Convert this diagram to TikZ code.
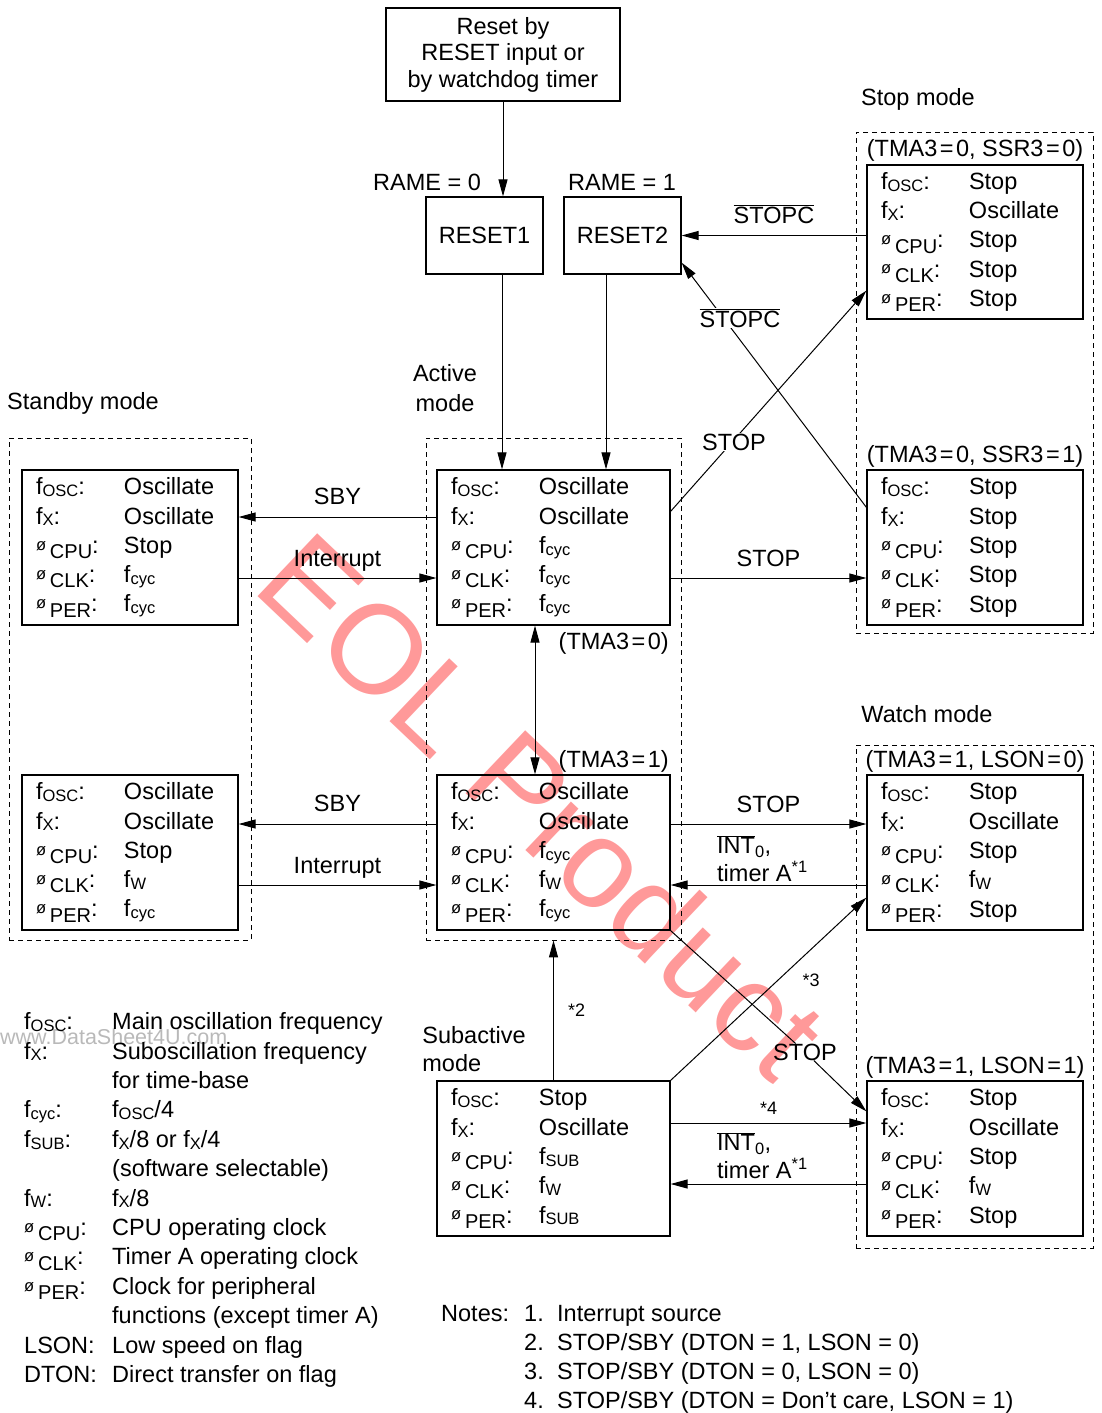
\documentclass[tikz,border=0pt]{standalone}
\usepackage{fontspec}
\setmainfont{Liberation Sans}
\usetikzlibrary{arrows.meta}

\newcommand{\fsub}[1]{f\raisebox{-0.08em}{\fontsize{16.5}{16.5}\selectfont #1}}
\newcommand{\phisub}[1]{\raisebox{0.14em}{\fontsize{16.5}{16.5}\selectfont ø}\,\raisebox{-0.22em}{\fontsize{20}{20}\selectfont #1}:}
\newcommand{\mrow}[2]{\makebox[88pt][l]{#1}#2}
\newcommand{\clocks}[5]{\mrow{\fsub{OSC}:}{#1}\\ \mrow{\fsub{X}:}{#2}\\ \mrow{\phisub{CPU}}{#3}\\ \mrow{\phisub{CLK}}{#4}\\ \mrow{\phisub{PER}}{#5}}
\newcommand{\bartext}[1]{$\overline{\mbox{#1}}$}
\newcommand{\eq}{\kern2.5pt=\kern2.5pt}

\tikzset{
  every node/.style={font=\fontsize{23.5}{29.3}\selectfont, inner sep=0pt},
  widebox/.style={draw, line width=1.2pt, minimum height=155pt, inner xsep=14pt, text width=205pt, align=left},
  narrowbox/.style={draw, line width=1.2pt, minimum height=155pt, inner xsep=14pt, text width=188pt, align=left},
  resetbox/.style={draw, line width=1.2pt, minimum width=117pt, minimum height=77pt},
  group/.style={draw, line width=0.9pt, dash pattern=on 5pt off 4pt},
  arr/.style={-{Triangle[length=17pt,width=9pt]}, line width=1pt},
  lbl/.style={above=#1, text depth=0pt},
  lbl/.default=11pt,
  small/.style={font=\fontsize{18}{18}\selectfont},
}

\begin{document}
\begin{tikzpicture}[x=1pt,y=-1pt]
	\useasboundingbox (0,0) rectangle (1101,1413);

	% watermarks
	\node[rotate=-43.5, text=red!40, font=\fontsize{126}{126}\selectfont] (eol) at (543,805) {EOL Product};
	\node[anchor=west, text=gray!55, font=\fontsize{21.5}{21.5}\selectfont] (www) at (0,1037) {www.DataSheet4U.com};

	% dashed mode groups
	\node[group, minimum width=242pt, minimum height=502pt] (sbygrp) at (130,689) {};
	\node[group, minimum width=255pt, minimum height=502pt] (actgrp) at (553.5,689) {};
	\node[group, minimum width=237pt, minimum height=501pt] (stpgrp) at (974.5,382.5) {};
	\node[group, minimum width=237pt, minimum height=503pt] (wchgrp) at (974.5,996.5) {};

	\node at (83,403) {Standby mode};
	\node[align=center] at (445,388) {Active\\mode};
	\node at (918,99) {Stop mode};
	\node at (927,714) {Watch mode};
	\node[align=left, font=\fontsize{23.5}{28}\selectfont] at (474,1049) {Subactive\\mode};

	% reset
	\node[draw, line width=1.2pt, minimum width=234pt, minimum height=93pt, align=center, font=\fontsize{23.5}{26.5}\selectfont] (reset) at (503,54.5) {Reset by\\RESET input or\\by watchdog timer};
	\node[resetbox] (rst1) at (484.5,235.5) {RESET1};
	\node[resetbox] (rst2) at (622.5,235.5) {RESET2};
	\node at (427,182) {RAME = 0};
	\node at (622,182) {RAME = 1};

	% mode boxes
	\node[narrowbox] (sby0) at (130,547.5) {\clocks{Oscillate}{Oscillate}{Stop}{\fsub{cyc}}{\fsub{cyc}}};
	\node[narrowbox] (sby1) at (130,852.5) {\clocks{Oscillate}{Oscillate}{Stop}{\fsub{W}}{\fsub{cyc}}};
	\node[widebox] (act0) at (553.5,547.5) {\clocks{Oscillate}{Oscillate}{\fsub{cyc}}{\fsub{cyc}}{\fsub{cyc}}};
	\node[widebox] (act1) at (553.5,852.5) {\clocks{Oscillate}{Oscillate}{\fsub{cyc}}{\fsub{W}}{\fsub{cyc}}};
	\node[widebox] (sub) at (553.5,1158.5) {\clocks{Stop}{Oscillate}{\fsub{SUB}}{\fsub{W}}{\fsub{SUB}}};
	\node[narrowbox, minimum height=154pt] (stp0) at (975,242) {\clocks{Stop}{Oscillate}{Stop}{Stop}{Stop}};
	\node[narrowbox] (stp1) at (975,547.5) {\clocks{Stop}{Stop}{Stop}{Stop}{Stop}};
	\node[narrowbox] (wch0) at (975,852.5) {\clocks{Stop}{Oscillate}{Stop}{\fsub{W}}{Stop}};
	\node[narrowbox] (wch1) at (975,1158.5) {\clocks{Stop}{Oscillate}{Stop}{\fsub{W}}{Stop}};

	\node[anchor=east] at (669,643) {(TMA3\eq0)};
	\node[anchor=east] at (669,761) {(TMA3\eq1)};
	\node at (975,150) {(TMA3\eq0, SSR3\eq0)};
	\node at (975,456) {(TMA3\eq0, SSR3\eq1)};
	\node at (975,761) {(TMA3\eq1, LSON\eq0)};
	\node at (975,1067) {(TMA3\eq1, LSON\eq1)};

	% reset paths
	\draw[arr] (reset.south) -- (reset.south |- rst1.north);
	\draw[arr] ([xshift=17.5pt]rst1.south) -- ([xshift=17.5pt]rst1.south |- act0.north);
	\draw[arr] ([xshift=-16.5pt]rst2.south) -- ([xshift=-16.5pt]rst2.south |- act0.north);
	\draw[arr] (stp0.west |- rst2.east) -- node[lbl=12pt] {\bartext{STOPC}} (rst2.east);
	\draw[arr] ([yshift=-38pt]stp1.north west) -- ([yshift=12pt]rst2.south east);
	\node[fill=white, inner sep=1pt] at (740,318) {\bartext{STOPC}};

	% active (TMA3 = 0)
	\draw[arr] ([yshift=-42pt]act0.north east) -- ([yshift=29pt]stp0.south west);
	\node[fill=white, inner sep=1pt] at (734,442) {STOP};
	\draw[arr] ([yshift=-30.5pt]act0.east) -- node[lbl] {STOP} ([yshift=-30.5pt]stp1.west);
	\draw[arr] ([yshift=30.5pt]act0.west) -- node[lbl=12.5pt] {SBY} ([yshift=30.5pt]sby0.east);
	\draw[arr] ([yshift=-30.5pt]sby0.east) -- node[lbl] {Interrupt} ([yshift=-30.5pt]act0.west);
	\draw[{Triangle[length=17pt,width=9pt]}-{Triangle[length=17pt,width=9pt]}, line width=1pt] ([xshift=-18.5pt]act0.south) -- ([xshift=-18.5pt]act1.north);

	% active (TMA3 = 1)
	\draw[arr] ([yshift=28.5pt]act1.west) -- node[lbl=12.5pt] {SBY} ([yshift=28.5pt]sby1.east);
	\draw[arr] ([yshift=-32.5pt]sby1.east) -- node[lbl] {Interrupt} ([yshift=-32.5pt]act1.west);
	\draw[arr] ([yshift=28.5pt]act1.east) -- node[lbl] {STOP} ([yshift=28.5pt]wch0.west);
	\draw[arr] ([yshift=-32.5pt]wch0.west) -- ([yshift=-32.5pt]act1.east);
	\node[anchor=west, align=left, font=\fontsize{23.5}{28}\selectfont] (int0) at (717,859) {\bartext{INT}\textsubscript{0},\\timer A\textsuperscript{*1}};
	\node (stop3) at (805,1052) {STOP};
	\draw[line width=1pt] (act1.south east) -- (stop3);
	\draw[arr] (stop3) -- ([yshift=-31pt]wch1.north west);

	% subactive
	\draw[arr] (sub.north) -- node[right=14pt, small] {*2} (actgrp.south);
	\draw[arr] (sub.north east) -- ([yshift=33pt]wch0.south west);
	\node[small] at (811,980) {*3};
	\draw[arr] ([yshift=35.5pt]sub.east) -- node[lbl=8.5pt, small] {*4} ([yshift=35.5pt]wch1.west);
	\draw[arr] ([yshift=-25.5pt]wch1.west) -- ([yshift=-25.5pt]sub.east);
	\node[anchor=west, align=left, font=\fontsize{23.5}{28}\selectfont] (int1) at (717,1156) {\bartext{INT}\textsubscript{0},\\timer A\textsuperscript{*1}};

	% legend
	\node[anchor=base west, align=left, font=\fontsize{23.5}{29.4}\selectfont] (legend) at (24,1382.5) {%
		\mrow{\fsub{OSC}:}{Main oscillation frequency}\\
		\mrow{\fsub{X}:}{Suboscillation frequency}\\
		\mrow{}{for time-base}\\
		\mrow{\fsub{cyc}:}{\fsub{OSC}/4}\\
		\mrow{\fsub{SUB}:}{\fsub{X}/8 or \fsub{X}/4}\\
		\mrow{}{(software selectable)}\\
		\mrow{\fsub{W}:}{\fsub{X}/8}\\
		\mrow{\phisub{CPU}}{CPU operating clock}\\
		\mrow{\phisub{CLK}}{Timer A operating clock}\\
		\mrow{\phisub{PER}}{Clock for peripheral}\\
		\mrow{}{functions (except timer A)}\\
		\mrow{LSON:}{Low speed on flag}\\
		\mrow{DTON:}{Direct transfer on flag}};

	% notes
	\node[anchor=base west, align=left, font=\fontsize{23.5}{29}\selectfont] (notes) at (441,1408.5) {%
		\makebox[83pt][l]{Notes:}\makebox[33pt][l]{1.}Interrupt source\\
		\makebox[83pt]{}\makebox[33pt][l]{2.}STOP/SBY (DTON = 1, LSON = 0)\\
		\makebox[83pt]{}\makebox[33pt][l]{3.}STOP/SBY (DTON = 0, LSON = 0)\\
		\makebox[83pt]{}\makebox[33pt][l]{4.}STOP/SBY (DTON = Don’t care, LSON = 1)};
\end{tikzpicture}
\end{document}
